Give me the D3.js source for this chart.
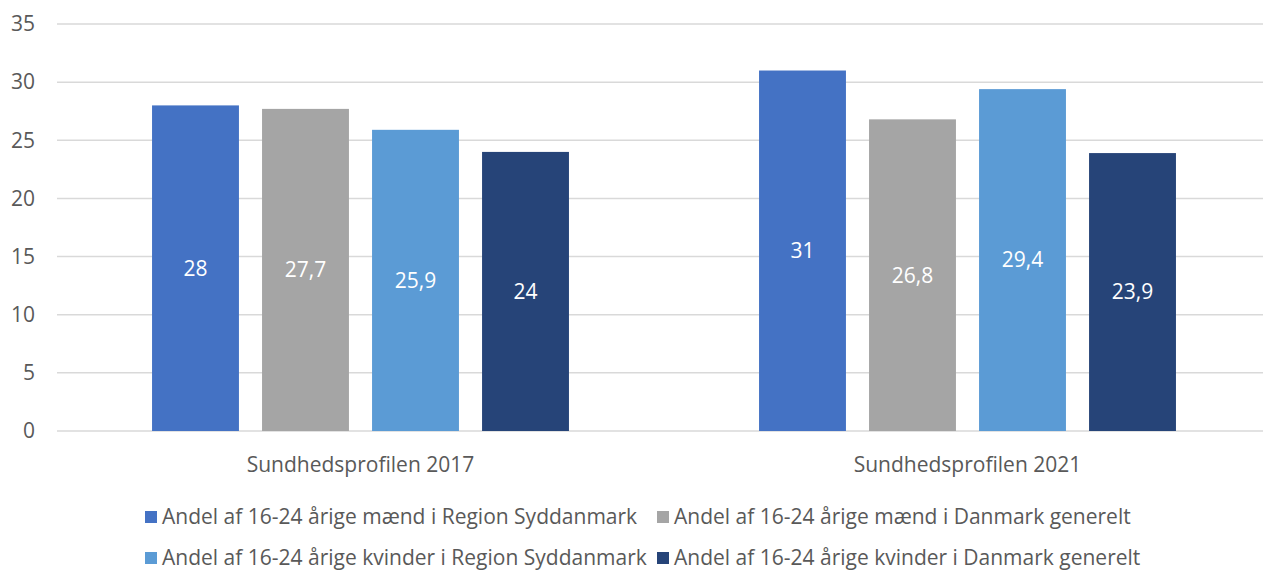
<!DOCTYPE html>
<html>
<head>
<meta charset="utf-8">
<script src="https://cdnjs.cloudflare.com/ajax/libs/d3/7.8.5/d3.min.js"></script>
<style>
  body { margin: 0; background: #fff; }
  svg text { font-family: "Open Sans", "Noto Sans", sans-serif; fill: #595959; }
</style>
</head>
<body>
<div id="chart"></div>
<script>
const categories = ["Sundhedsprofilen 2017", "Sundhedsprofilen 2021"];
const seriesNames = [
    "Andel af 16-24 årige mænd i Region Syddanmark",
    "Andel af 16-24 årige mænd i Danmark generelt",
    "Andel af 16-24 årige kvinder i Region Syddanmark",
    "Andel af 16-24 årige kvinder i Danmark generelt"
];
const values2017 = [28, 27.7, 25.9, 24];
const values2021 = [31, 26.8, 29.4, 23.9];
const seriesColors = ["#4472C4", "#A5A5A5", "#5B9BD5", "#264478"];
const yTicks = [0, 5, 10, 15, 20, 25, 30, 35];

const W = 1263, H = 573;
const svg = d3.select("#chart").append("svg")
    .attr("width", W)
    .attr("height", H);

const rows = categories.map((c, i) => ({
    cat: c,
    vals: [values2017, values2021][i]
}));

const x0 = d3.scaleBand()
    .domain(categories)
    .range([57, 1271])
    .padding(0);

const x1 = d3.scaleBand()
    .domain(seriesNames)
    .range([0, x0.bandwidth()])
    .paddingInner(0.21)
    .paddingOuter(0.864);

const y = d3.scaleLinear()
    .domain([0, 35])
    .range([431, 24]);

// gridlines
svg.append("g")
    .selectAll("line")
    .data(yTicks)
    .enter()
    .append("line")
    .attr("x1", 57)
    .attr("x2", W)
    .attr("y1", d => y(d))
    .attr("y2", d => y(d))
    .attr("stroke", "#D9D9D9")
    .attr("stroke-width", 1.5);

// y tick labels
svg.append("g")
    .selectAll("text")
    .data(yTicks)
    .enter()
    .append("text")
    .attr("x", 35)
    .attr("y", d => y(d))
    .attr("dy", "0.35em")
    .attr("text-anchor", "end")
    .style("font-size", "21px")
    .text(d => d);

// bars
const groups = svg.append("g")
    .selectAll("g")
    .data(rows)
    .enter()
    .append("g")
    .attr("transform", d => `translate(${x0(d.cat)},0)`);

const cells = groups.selectAll("g")
    .data(d => d.vals.map((v, i) => ({ name: seriesNames[i], value: v, color: seriesColors[i] })))
    .enter()
    .append("g");

cells.append("rect")
    .attr("x", d => x1(d.name))
    .attr("y", d => y(d.value))
    .attr("width", x1.bandwidth())
    .attr("height", d => y(0) - y(d.value))
    .attr("fill", d => d.color);

cells.append("text")
    .attr("x", d => x1(d.name) + x1.bandwidth() / 2)
    .attr("y", d => (y(d.value) + y(0)) / 2)
    .attr("dy", "0.35em")
    .attr("text-anchor", "middle")
    .style("font-size", "21px")
    .style("fill", "#fff")
    .text(d => String(d.value).replace(".", ","));

// x labels
svg.append("g")
    .selectAll("text")
    .data(categories)
    .enter()
    .append("text")
    .attr("x", d => x0(d) + x0.bandwidth() / 2)
    .attr("y", 465)
    .attr("dy", "0.35em")
    .attr("text-anchor", "middle")
    .style("font-size", "21px")
    .text(d => d);

// legend
const legendPos = [[145, 517], [657, 517], [145, 558], [657, 558]];
const legend = svg.append("g")
    .selectAll("g")
    .data(seriesNames)
    .enter()
    .append("g")
    .attr("transform", (d, i) => `translate(${legendPos[i][0]},${legendPos[i][1]})`);

legend.append("rect")
    .attr("x", 0)
    .attr("y", -6)
    .attr("width", 12)
    .attr("height", 12)
    .attr("fill", (d, i) => seriesColors[i]);

legend.append("text")
    .attr("x", 17)
    .attr("y", 0)
    .attr("dy", "0.35em")
    .style("font-size", "21px")
    .text(d => d);
</script>
</body>
</html>
